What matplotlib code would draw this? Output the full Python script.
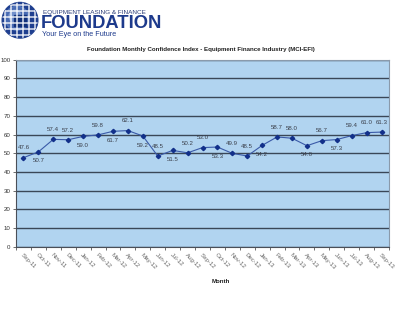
import matplotlib
matplotlib.use("Agg")
import matplotlib.pyplot as plt
from matplotlib.patches import Circle, Rectangle
import numpy as np

months = ["Sep-11", "Oct-11", "Nov-11", "Dec-11", "Jan-12", "Feb-12", "Mar-12",
          "Apr-12", "May-12", "Jun-12", "Jul-12", "Aug-12", "Sep-12", "Oct-12",
          "Nov-12", "Dec-12", "Jan-13", "Feb-13", "Mar-13", "Apr-13", "May-13",
          "Jun-13", "Jul-13", "Aug-13", "Sep-13"]
mci = [47.6, 50.7, 57.4, 57.2, 59.0, 59.8, 61.7, 62.1, 59.2, 48.5, 51.5, 50.2,
       53.0, 53.3, 49.9, 48.5, 54.2, 58.7, 58.0, 54.0, 56.7, 57.3, 59.4, 61.0, 61.3]
label_side = ["up", "down", "up", "up", "down", "up", "down", "up", "down", "up",
              "down", "up", "up", "down", "up", "up", "down", "up", "up", "down",
              "up", "down", "up", "up", "up"]

title = "Foundation Monthly Confidence Index - Equipment Finance Industry (MCI-EFI)"

fig = plt.figure(figsize=(4.0, 3.26), dpi=100)
fig.patch.set_facecolor("white")

# --- logo: gridded globe ---
lax = fig.add_axes([0.0, 0.875, 0.1, 0.125])
lax.set_xlim(0, 40)
lax.set_ylim(0, 40.75)
lax.set_aspect("equal")
lax.axis("off")
cx, cy, r = 20.0, 20.5, 17.8
globe = Circle((cx, cy), r, color="#1f3f8f")
lax.add_patch(globe)
lax.add_patch(Circle((cx - 3, cy + 2), 12, color="#6a8fd0", alpha=0.55))
lax.add_patch(Circle((cx - 5, cy + 4), 6, color="#a9c1ea", alpha=0.45))
for v in np.arange(cx - 15, cx + 16, 6):
    ln, = lax.plot([v, v], [cy - r, cy + r], color="white", lw=1.1, alpha=0.85)
    ln.set_clip_path(globe)
for h in np.arange(cy - 15, cy + 16, 6):
    ln, = lax.plot([cx - r, cx + r], [h, h], color="white", lw=1.1, alpha=0.85)
    ln.set_clip_path(globe)
lax.add_patch(Rectangle((cx - 6, cy - 6), 12, 11, color="#12317a"))

fig.text(0.108, 0.963, "EQUIPMENT LEASING & FINANCE", fontsize=4.6,
         color="#2c3f7a", family="Liberation Sans", va="center")
fig.text(0.103, 0.928, "FOUNDATION", fontsize=13.2, fontweight="bold",
         color="#1d3a8c", family="Liberation Sans", va="center")
fig.text(0.106, 0.894, "Your Eye on the Future", fontsize=5.2,
         color="#1d3a8c", family="Liberation Sans", va="center")

fig.text(0.502, 0.847, title, fontsize=4.4, fontweight="bold", color="#222222",
         family="Liberation Sans", ha="center", va="center")

# --- chart ---
ax = fig.add_axes([0.040, 0.2432, 0.9325, 0.5737])
ax.set_facecolor("#b1d4f0")
x = np.arange(len(months))
ax.plot(x, mci, color="#3a5aa8", lw=0.8, marker="D", ms=2.2,
        mfc="#12308a", mec="#12308a", zorder=3)

for xi, v, side in zip(x, mci, label_side):
    dy = 7 if side == "up" else -6.5
    ax.annotate(f"{v:.1f}", (xi, v), xytext=(0, dy), textcoords="offset points",
                ha="center", va="center", fontsize=4.4, color="#3a3f4a",
                family="Liberation Sans")

ax.set_xlim(-0.5, len(months) - 0.5)
ax.set_ylim(0, 100)
ax.set_yticks(np.arange(0, 101, 10))
ax.yaxis.grid(True, color="#3a4757", lw=1.0)
ax.set_axisbelow(True)
ax.tick_params(axis="y", labelsize=4.4, labelcolor="#333333", length=2,
               width=0.6, color="#555555", pad=2)
for lbl in ax.get_yticklabels():
    lbl.set_family("Liberation Sans")

ax.set_xticks(x)
ax.set_xticklabels(months, rotation=-45, ha="left", va="top",
                   rotation_mode="anchor", fontsize=4.4, color="#666666",
                   family="Liberation Sans")
ax.tick_params(axis="x", which="major", length=0, pad=4)
ax.set_xticks(np.arange(-0.5, len(months), 1), minor=True)
ax.tick_params(axis="x", which="minor", length=2, width=0.6, color="#555555")

for s in ["left", "bottom"]:
    ax.spines[s].set_color("#4a4f58")
    ax.spines[s].set_linewidth(0.8)
for s in ["right", "top"]:
    ax.spines[s].set_color("#8a9aab")
    ax.spines[s].set_linewidth(0.8)

fig.text(0.552, 0.137, "Month", fontsize=4.4, fontweight="bold", color="#222222",
         family="Liberation Sans", ha="center", va="center")

fig.savefig("out.png", dpi=100, facecolor="white")
